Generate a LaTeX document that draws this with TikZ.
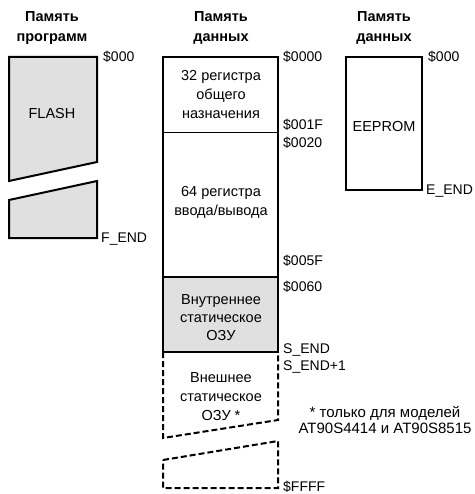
\documentclass[tikz,border=0pt]{standalone}
\usepackage{fontspec}
\setmainfont{Liberation Sans}
\begin{document}
\begin{tikzpicture}[x=1pt,y=-1pt,
    every node/.style={font=\fontsize{14.5}{19}\selectfont, inner sep=0pt},
    heading/.style={font=\fontsize{14.5}{20}\selectfont\bfseries, align=center},
    blocktext/.style={align=center},
    addr/.style={anchor=west, font=\fontsize{14}{19}\selectfont},
    solidblock/.style={draw, line width=2pt},
    dashblock/.style={draw, line width=2pt, dash pattern=on 6pt off 3pt},
    memfill/.style={fill=black!12}]
    \useasboundingbox (0,0) rectangle (474,494);
    % headings
    \node[heading] (hprog) at (52,28) {Память\\программ};
    \node[heading] (hdata) at (221,28) {Память\\данных};
    \node[heading] (heep) at (384,28) {Память\\данных};
    % program memory
    \filldraw[solidblock,memfill] (9,57) -- (97,57) -- (97,162) -- (9,181) -- cycle;
    \filldraw[solidblock,memfill] (9,200) -- (97,181) -- (97,238) -- (9,238) -- cycle;
    \node (flash) at (52,114) {FLASH};
    \node[addr] (fstart) at (103,57) {\$000};
    \node[addr] (fend) at (101,239) {F\_END};
    % data memory
    \draw[solidblock] (163,57) rectangle (278,277);
    \draw[line width=1pt] (163,133) -- (278,133);
    \filldraw[solidblock,memfill] (163,277) rectangle (278,352);
    \draw[dashblock] (163,352) -- (163,438) -- (278,420) -- (278,352);
    \draw[dashblock] (163,460) -- (278,441) -- (278,488) -- (163,488) -- cycle;
    \node[blocktext] (regs) at (221,95) {32 регистра\\общего\\назначения};
    \node[blocktext] (io) at (221,202) {64 регистра\\ввода/вывода};
    \node[blocktext,font=\fontsize{14.5}{18}\selectfont] (sram) at (221,318) {Внутреннее\\статическое\\ОЗУ};
    \node[blocktext] (xram) at (221,397) {Внешнее\\статическое\\ОЗУ *};
    \node[addr] (a0000) at (283,57) {\$0000};
    \node[addr] (a001f) at (283,125) {\$001F};
    \node[addr] (a0020) at (283,143) {\$0020};
    \node[addr] (a005f) at (283,261) {\$005F};
    \node[addr] (a0060) at (283,287) {\$0060};
    \node[addr] (send) at (283,350) {S\_END};
    \node[addr] (send1) at (283,367) {S\_END+1};
    \node[addr] (affff) at (283,487) {\$FFFF};
    \node[blocktext,font=\fontsize{15}{16}\selectfont] (note) at (385,420) {* только для моделей\\AT90S4414 и AT90S8515};
    % eeprom
    \draw[solidblock] (346,57) rectangle (422,190);
    \node (eeprom) at (384,127) {EEPROM};
    \node[addr] (estart) at (428,57) {\$000};
    \node[addr] (eend) at (426,191) {E\_END};
\end{tikzpicture}
\end{document}
